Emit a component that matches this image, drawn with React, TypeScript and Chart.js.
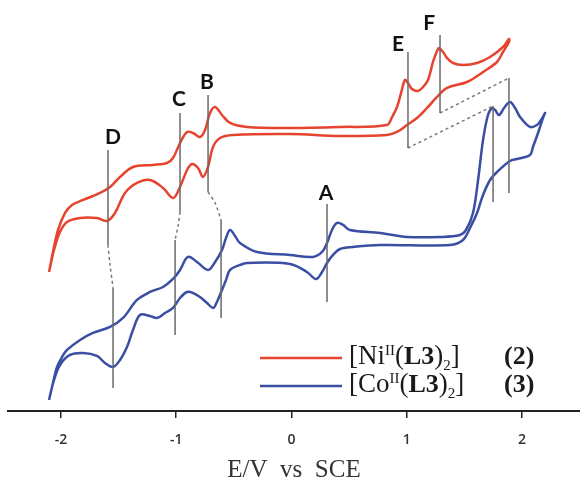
import React, { useEffect, useRef } from "react";
import { Chart, registerables } from "chart.js";

Chart.register(...registerables);

// ---------- axis ----------
const X_TICKS = [-2, -1, 0, 1, 2];
const X_MIN = -2.459;
const X_MAX = 2.502;
const I_MIN = 0;
const I_MAX = 411;
const X_TITLE = "E/V  vs  SCE";

// ---------- [Ni(L3)2] (2) : potential (V) and current (a.u.) ----------
const NI_E = [
  -2.103, -2.069, -2.025, -1.964, -1.904, -1.808, -1.661, -1.574, -1.487, -1.375, -1.201, -1.08, -1.028,
  -0.967, -0.906, -0.854, -0.794, -0.75, -0.707, -0.663, -0.603, -0.533, -0.386, -0.013, 0.421, 0.828,
  0.872, 0.915, 0.95, 0.984, 1.01, 1.045, 1.097, 1.141, 1.184, 1.227, 1.262, 1.279, 1.314, 1.349, 1.401,
  1.487, 1.609, 1.722, 1.834, 1.886,
  1.886, 1.834, 1.782, 1.661, 1.522, 1.349, 1.262, 1.175, 1.088, 1.002, 0.915, 0.828, 0.421, -0.013,
  -0.507, -0.62, -0.681, -0.724, -0.768, -0.811, -0.863, -0.906, -0.967, -1.028, -1.114, -1.227, -1.34,
  -1.444, -1.531, -1.6, -1.687, -1.834, -1.947, -2.008, -2.06, -2.103,
];
const NI_I = [
  139, 159, 181, 198, 206, 211, 218, 224, 234, 244, 246, 248, 253,
  268, 279, 278, 274, 281, 298, 304, 296, 288, 284, 283, 284, 286,
  294, 304, 318, 331, 328, 322, 320, 324, 331, 349, 360, 363, 359, 353, 348,
  346, 348, 354, 364, 372,
  369, 359, 349, 339, 329, 323, 314, 303, 293, 286, 279, 276, 275, 277,
  276, 273, 264, 244, 234, 243, 247, 241, 224, 213, 223, 231, 228,
  218, 198, 190, 193, 193, 189, 179, 161, 139,
];

// ---------- [Co(L3)2] (3) ----------
const CO_E = [
  -2.103, -2.069, -2.034, -1.99, -1.947, -1.834, -1.722, -1.574, -1.461, -1.34, -1.227, -1.114, -1.028,
  -0.967, -0.898, -0.82, -0.724, -0.663, -0.603, -0.568, -0.533, -0.49, -0.447, -0.299, -0.013, 0.186,
  0.265, 0.308, 0.351, 0.395, 0.447, 0.507, 0.768, 1.002, 1.288, 1.461, 1.513, 1.574, 1.618, 1.661,
  1.704, 1.739, 1.765, 1.8, 1.843, 1.895, 1.939, 1.982, 2.068, 2.129, 2.164, 2.199,
  2.181, 2.138, 2.094, 2.068, 1.956, 1.895, 1.782, 1.722, 1.661, 1.609, 1.548, 1.487, 1.375, 0.768,
  0.533, 0.421, 0.36, 0.308, 0.265, 0.212, 0.134, -0.013, -0.386, -0.447, -0.533, -0.568, -0.603,
  -0.655, -0.681, -0.733, -0.794, -0.854, -0.906, -0.967, -1.028, -1.097, -1.166, -1.227, -1.314,
  -1.375, -1.427, -1.487, -1.548, -1.618, -1.687, -1.808, -1.921, -2.008, -2.06, -2.103,
];
const CO_I = [
  11, 28, 44, 54, 61, 71, 78, 84, 93, 111, 119, 124, 132,
  141, 154, 149, 141, 149, 161, 173, 181, 175, 168, 159, 156, 154,
  159, 168, 181, 188, 186, 181, 178, 174, 174, 176, 181, 198, 231, 271,
  296, 303, 301, 296, 303, 309, 303, 294, 284, 286, 291, 298,
  293, 278, 264, 256, 252, 250, 239, 231, 216, 198, 183, 171, 166, 166,
  164, 162, 156, 148, 139, 132, 139, 147, 148, 146, 141, 131, 121,
  107, 103, 108, 114, 118, 119, 113, 103, 98, 93, 95, 96,
  81, 64, 51, 44, 48, 55, 58, 56, 46, 31, 11,
];

// ---------- guide lines (E, I pairs) ----------
const SOLID_GUIDE_E = [
  [-1.592, -1.592], [-1.548, -1.548],
  [-0.967, -0.967], [-1.01, -1.01],
  [-0.724, -0.724], [-0.611, -0.611],
  [0.308, 0.308],
  [1.01, 1.01], [1.288, 1.288],
  [1.748, 1.748], [1.886, 1.886],
];
const SOLID_GUIDE_I = [
  [261, 166], [123, 23],
  [298, 199], [171, 76],
  [316, 219], [191, 93],
  [207, 109],
  [359, 263], [376, 298],
  [305, 209], [333, 218],
];
const DASHED_GUIDE_E = [
  [-1.592, -1.574, -1.548],
  [-0.967, -0.984, -1.01],
  [-0.724, -0.663, -0.611],
  [1.288, 1.886],
  [1.01, 1.748],
];
const DASHED_GUIDE_I = [
  [166, 146, 123],
  [199, 185, 171],
  [219, 208, 191],
  [298, 333],
  [263, 305],
];

// ---------- peak labels ----------
const PEAK_LABELS = ["D", "C", "B", "A", "E", "F"];
const PEAK_LABEL_E = [-1.548, -0.976, -0.733, 0.299, 0.924, 1.193];
const PEAK_LABEL_I = [274, 312, 329, 218, 367, 388];

// ---------- legend ----------
const LEGEND_METALS = ["Ni", "Co"];
const LEGEND_NUMBERS = ["(2)", "(3)"];
const NI_COLOR = "#e6442e";
const CO_COLOR = "#3a4ea3";
const LEGEND_COLORS = [NI_COLOR, CO_COLOR];

const toPoints = (xs: number[], ys: number[]) => xs.map((x, k) => ({ x, y: ys[k] }));

const annotatePlugin = {
  id: "annotate",
  afterDatasetsDraw(chart: any) {
    const { ctx, scales } = chart;
    const xs = scales.x;
    const ys = scales.y;
    ctx.save();
    // peak letters
    ctx.fillStyle = "#111";
    ctx.font = 'bold 21px "Lato"';
    ctx.textAlign = "center";
    ctx.textBaseline = "middle";
    PEAK_LABELS.forEach((t, k) => {
      ctx.fillText(t, xs.getPixelForValue(PEAK_LABEL_E[k]), ys.getPixelForValue(PEAK_LABEL_I[k]));
    });
    // legend
    const rowY = [358, 386];
    const serif = '"Liberation Serif", "Times New Roman", serif';
    ctx.textAlign = "left";
    ctx.textBaseline = "alphabetic";
    LEGEND_METALS.forEach((metal, k) => {
      const ly = rowY[k];
      ctx.strokeStyle = LEGEND_COLORS[k];
      ctx.lineWidth = 2.5;
      ctx.beginPath();
      ctx.moveTo(260, ly);
      ctx.lineTo(342, ly);
      ctx.stroke();
      const base = ly + 6;
      let cx = 349;
      ctx.fillStyle = "#1a1a1a";
      const piece = (txt: string, font: string, dy: number) => {
        ctx.font = font;
        ctx.fillText(txt, cx, base + dy);
        cx += ctx.measureText(txt).width;
      };
      piece("[" + metal, `27px ${serif}`, 0);
      piece("II", `15px ${serif}`, -9);
      piece("(", `27px ${serif}`, 0);
      piece("L3", `bold 26px ${serif}`, 0);
      piece(")", `27px ${serif}`, 0);
      piece("2", `15px ${serif}`, 6);
      piece("]", `27px ${serif}`, 0);
      ctx.font = `bold 26px ${serif}`;
      ctx.fillText(LEGEND_NUMBERS[k], 504, base);
    });
    ctx.restore();
  },
};

export default function App() {
  const ref = useRef<HTMLCanvasElement>(null);
  useEffect(() => {
    if (!ref.current) return;
    const guideBase = {
      pointRadius: 0,
      tension: 0,
      fill: false,
      order: 0,
    };
    const datasets: any[] = [
      {
        label: "Ni",
        data: toPoints(NI_E, NI_I),
        borderColor: NI_COLOR,
        borderWidth: 2.5,
        pointRadius: 0,
        tension: 0.35,
        fill: false,
        order: 1,
      },
      {
        label: "Co",
        data: toPoints(CO_E, CO_I),
        borderColor: CO_COLOR,
        borderWidth: 2.5,
        pointRadius: 0,
        tension: 0.35,
        fill: false,
        order: 1,
      },
      ...SOLID_GUIDE_E.map((e, k) => ({
        ...guideBase,
        label: "guide" + k,
        data: toPoints(e, SOLID_GUIDE_I[k]),
        borderColor: "#6a6a6a",
        borderWidth: 1.5,
      })),
      ...DASHED_GUIDE_E.map((e, k) => ({
        ...guideBase,
        label: "dash" + k,
        data: toPoints(e, DASHED_GUIDE_I[k]),
        borderColor: "#7a7a7a",
        borderWidth: 1.5,
        borderDash: [3, 3],
        tension: 0.3,
      })),
    ];
    const chart = new Chart(ref.current, {
      type: "line",
      data: { datasets },
      options: {
        animation: false,
        responsive: false,
        layout: { padding: { left: 8, right: 0, top: 0, bottom: 0 } },
        plugins: { legend: { display: false }, tooltip: { enabled: false } },
        scales: {
          x: {
            type: "linear",
            position: "bottom",
            min: X_MIN,
            max: X_MAX,
            afterBuildTicks: (scale: any) => {
              scale.ticks = X_TICKS.map((v) => ({ value: v }));
            },
            ticks: {
              callback: (v: any) => String(v),
              font: { family: '"Open Sans"', size: 14, weight: "600" },
              color: "#333",
              padding: 14,
              maxRotation: 0,
            },
            grid: {
              display: true,
              drawOnChartArea: false,
              drawTicks: true,
              tickLength: 7,
              color: "#222",
              lineWidth: 1.5,
            },
            border: { display: true, color: "#222", width: 2 },
            title: {
              display: true,
              text: X_TITLE,
              color: "#333",
              font: { family: '"Liberation Serif"', size: 25, lineHeight: 0.65 },
              padding: 0,
            },
          },
          y: {
            type: "linear",
            display: false,
            min: I_MIN,
            max: I_MAX,
          },
        },
      },
      plugins: [annotatePlugin],
    } as any);
    return () => chart.destroy();
  }, []);
  return (
    <div style={{ position: "absolute", left: 0, top: 0, width: 580, height: 479, background: "#fff" }}>
      <canvas ref={ref} width={580} height={479} style={{ display: "block" }} />
    </div>
  );
}
